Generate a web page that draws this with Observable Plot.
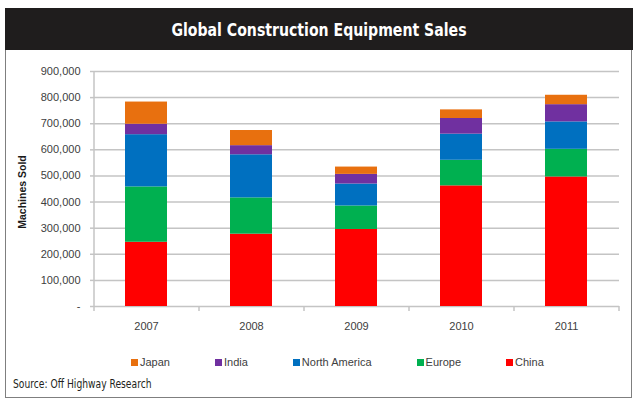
<!DOCTYPE html>
<html>
<head>
<meta charset="utf-8">
<script src="https://cdn.jsdelivr.net/npm/d3@7"></script>
<script src="https://cdn.jsdelivr.net/npm/@observablehq/plot@0.6"></script>
<style>
  html, body { margin: 0; padding: 0; background: #fff; width: 644px; height: 410px; overflow: hidden; }
  body { position: relative; font-family: "Liberation Sans", Arial, sans-serif; }
  #frame { position: absolute; left: 5px; top: 8px; width: 625px; height: 388px; border: 1.5px solid #7f7f7f; background: #fff; }
  #title { position: absolute; left: 5px; top: 8px; width: 628px; height: 42px; background: #1f1d1d; }
  #title span { position: absolute; left: 50%; top: 50%; transform: translate(-50%, -50%) scaleX(0.87);
           color: #fff; font-family: "DejaVu Sans Condensed", sans-serif; font-weight: bold;
           font-size: 18px; white-space: nowrap; }
  #chart { position: absolute; left: 0; top: 51px; }
  #ylabel { position: absolute; left: 22px; top: 192px; transform: translate(-50%, -50%) rotate(-90deg);
            font-size: 10.5px; font-weight: bold; color: #1a1a1a; white-space: nowrap; }
  #legend { position: absolute; left: 131px; top: 356px; display: flex; gap: 45px; font-size: 11px; color: #404040; }
  #legend .item { display: flex; align-items: center; gap: 2px; white-space: nowrap; }
  #legend .sw { width: 7px; height: 7px; display: inline-block; }
  #source { position: absolute; left: 13px; top: 377px; font-family: "DejaVu Sans Condensed", sans-serif;
            font-size: 12px; color: #231f20; transform-origin: 0 50%; transform: scaleX(0.85); white-space: nowrap; }
</style>
</head>
<body>
<div id="frame"></div>
<div id="title"><span>Global Construction Equipment Sales</span></div>
<div id="chart"></div>
<div id="ylabel">Machines Sold</div>
<div id="legend"></div>
<div id="source">Source: Off Highway Research</div>
<script>
const years = ["2007", "2008", "2009", "2010", "2011"];
const seriesNames = ["China", "Europe", "North America", "India", "Japan"]; // bottom to top
const seriesColors = ["#ff0000", "#00b050", "#0070c0", "#7030a0", "#e8700f"];
const china        = [246000, 277000, 295000, 462000, 496000];
const europe       = [212000, 139000,  90000,  98000, 106000];
const northAmerica = [200000, 165000,  84000, 100000, 105000];
const india        = [ 40000,  35000,  37000,  60000,  66000];
const japan        = [ 85000,  58000,  28000,  33000,  36000];
const yTicks = [0, 100000, 200000, 300000, 400000, 500000, 600000, 700000, 800000, 900000];
const legendOrder = ["Japan", "India", "North America", "Europe", "China"];

const seriesValues = [china, europe, northAmerica, india, japan];
const table = [];
seriesNames.forEach((s, si) => {
  years.forEach((y, yi) => table.push({year: y, series: s, value: seriesValues[si][yi]}));
});

const fmt = d => d === 0 ? "-" : d3.format(",")(d);
const gridColor = "#c4c4c4";

const chart = Plot.plot({
  width: 644,
  height: 290,
  marginLeft: 94,
  marginRight: 25,
  marginTop: 20,
  marginBottom: 35,
  style: {fontFamily: "Liberation Sans, Arial, sans-serif", fontSize: "11px", color: "#404040", background: "transparent"},
  x: {domain: years, paddingInner: 0.6, paddingOuter: 0.3, label: null},
  y: {domain: [0, 900000], label: null},
  color: {domain: seriesNames, range: seriesColors},
  marks: [
    Plot.gridY(yTicks, {stroke: gridColor, strokeOpacity: 1, strokeWidth: 1.5}),
    Plot.axisY({ticks: yTicks, tickSize: 4, tickPadding: 10, tickFormat: fmt, stroke: gridColor, strokeWidth: 1.5, fill: "#404040", label: null}),
    Plot.axisX({tickSize: 0, tickPadding: 16, fill: "#404040", label: null}),
    Plot.ruleX([years[0]], {x: d => d, dx: -52.5, stroke: gridColor, strokeWidth: 1.5, insetBottom: -5}),
    Plot.ruleX(years.slice(1), {x: d => d, y1: 0, y2: 0, dx: -52.5, stroke: gridColor, strokeWidth: 1.5, insetBottom: -5}),
    Plot.ruleX([years[years.length - 1]], {x: d => d, y1: 0, y2: 0, dx: 52.5, stroke: gridColor, strokeWidth: 1.5, insetBottom: -5}),
    Plot.barY(table, {x: "year", y: "value", fill: "series"})
  ]
});
document.getElementById("chart").appendChild(chart);

const legend = document.getElementById("legend");
legendOrder.forEach(name => {
  const item = document.createElement("div");
  item.className = "item";
  const sw = document.createElement("span");
  sw.className = "sw";
  sw.style.background = seriesColors[seriesNames.indexOf(name)];
  const label = document.createElement("span");
  label.textContent = name;
  item.appendChild(sw);
  item.appendChild(label);
  legend.appendChild(item);
});
</script>
</body>
</html>
